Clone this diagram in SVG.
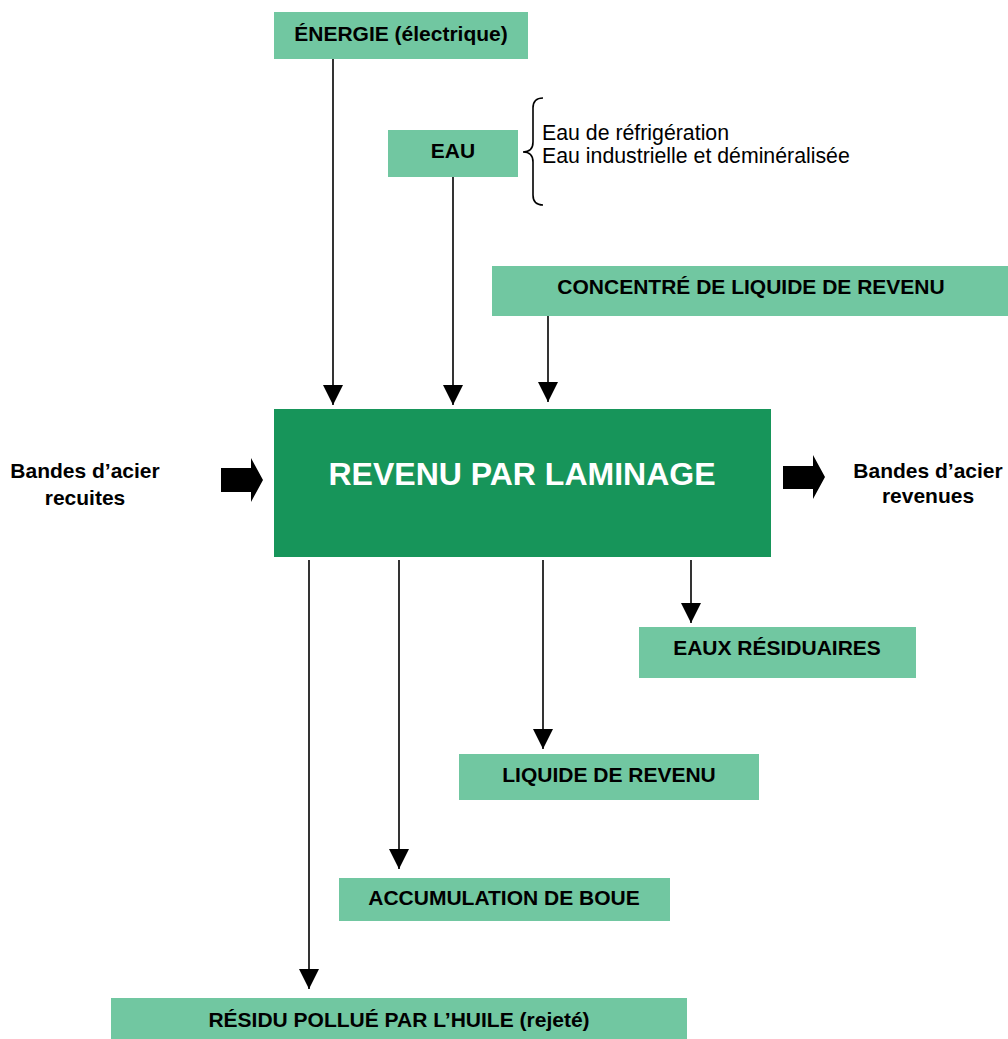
<svg xmlns="http://www.w3.org/2000/svg" width="1008" height="1039" viewBox="0 0 1008 1039">
<style>
.box{fill:#71C7A1}
.main{fill:#17955A}
.lbl{font-family:"Liberation Sans",Arial,sans-serif;font-size:21px;font-weight:bold;fill:#000;text-anchor:middle}
.reg{font-family:"Liberation Sans",Arial,sans-serif;font-size:21.3px;fill:#000}
.title{font-family:"Liberation Sans",Arial,sans-serif;font-size:32px;font-weight:bold;fill:#fff;text-anchor:middle}
.conn{stroke:#000;stroke-width:1.6;fill:none}
</style>
<defs>
<marker id="ah" markerUnits="userSpaceOnUse" markerWidth="20" markerHeight="20" refX="20" refY="10" orient="auto" viewBox="0 0 20 20">
<path d="M0,0 L20,10 L0,20 z" fill="#000"/>
</marker>
</defs>
<rect width="1008" height="1039" fill="#fff"/>
<g id="connectors">
<line class="conn" x1="333" y1="59" x2="333" y2="405" marker-end="url(#ah)"/>
<line class="conn" x1="453" y1="177" x2="453" y2="405" marker-end="url(#ah)"/>
<line class="conn" x1="548" y1="316" x2="548" y2="402" marker-end="url(#ah)"/>
<line class="conn" x1="309" y1="560" x2="309" y2="989" marker-end="url(#ah)"/>
<line class="conn" x1="399" y1="560" x2="399" y2="869" marker-end="url(#ah)"/>
<line class="conn" x1="543" y1="560" x2="543" y2="749" marker-end="url(#ah)"/>
<line class="conn" x1="691" y1="560" x2="691" y2="623" marker-end="url(#ah)"/>
<path id="arrow-in" d="M221,468 L251,468 L251,458 L263,480 L251,502 L251,492 L221,492 z" fill="#000"/>
<path id="arrow-out" d="M783,466 L813,466 L813,455 L825,477 L813,499 L813,489 L783,489 z" fill="#000"/>
<path id="brace" d="M543,98 Q533,98 533,108 L533,142 Q533,152 523,152 Q533,152 533,162 L533,195 Q533,205 543,205" class="conn" stroke-width="1.2"/>
</g>
<g id="energie">
<rect class="box" x="274" y="12" width="254" height="47"/>
<text class="lbl" x="401" y="41">ÉNERGIE (électrique)</text>
</g>
<g id="eau">
<rect class="box" x="388" y="130" width="130" height="47"/>
<text class="lbl" x="453" y="158">EAU</text>
</g>
<g id="eau-note">
<text class="reg" x="542" y="140">Eau de réfrigération</text>
<text class="reg" x="542" y="163">Eau industrielle et déminéralisée</text>
</g>
<g id="concentre">
<rect class="box" x="492" y="266" width="516" height="50"/>
<text class="lbl" x="751" y="294">CONCENTRÉ DE LIQUIDE DE REVENU</text>
</g>
<g id="revenu">
<rect class="main" x="274" y="409" width="497" height="148"/>
<text class="title" x="522" y="485">REVENU PAR LAMINAGE</text>
</g>
<g id="entree">
<text class="lbl" x="85" y="478">Bandes d’acier</text>
<text class="lbl" x="85" y="505">recuites</text>
</g>
<g id="sortie">
<text class="lbl" x="928" y="478">Bandes d’acier</text>
<text class="lbl" x="928" y="503">revenues</text>
</g>
<g id="eaux-residuaires">
<rect class="box" x="639" y="627" width="277" height="51"/>
<text class="lbl" x="777" y="655">EAUX RÉSIDUAIRES</text>
</g>
<g id="liquide">
<rect class="box" x="459" y="754" width="300" height="46"/>
<text class="lbl" x="609" y="782">LIQUIDE DE REVENU</text>
</g>
<g id="boue">
<rect class="box" x="339" y="878" width="331" height="43"/>
<text class="lbl" x="504" y="905">ACCUMULATION DE BOUE</text>
</g>
<g id="residu">
<rect class="box" x="111" y="998" width="576" height="41"/>
<text class="lbl" x="399" y="1027">RÉSIDU POLLUÉ PAR L’HUILE (rejeté)</text>
</g>
</svg>
